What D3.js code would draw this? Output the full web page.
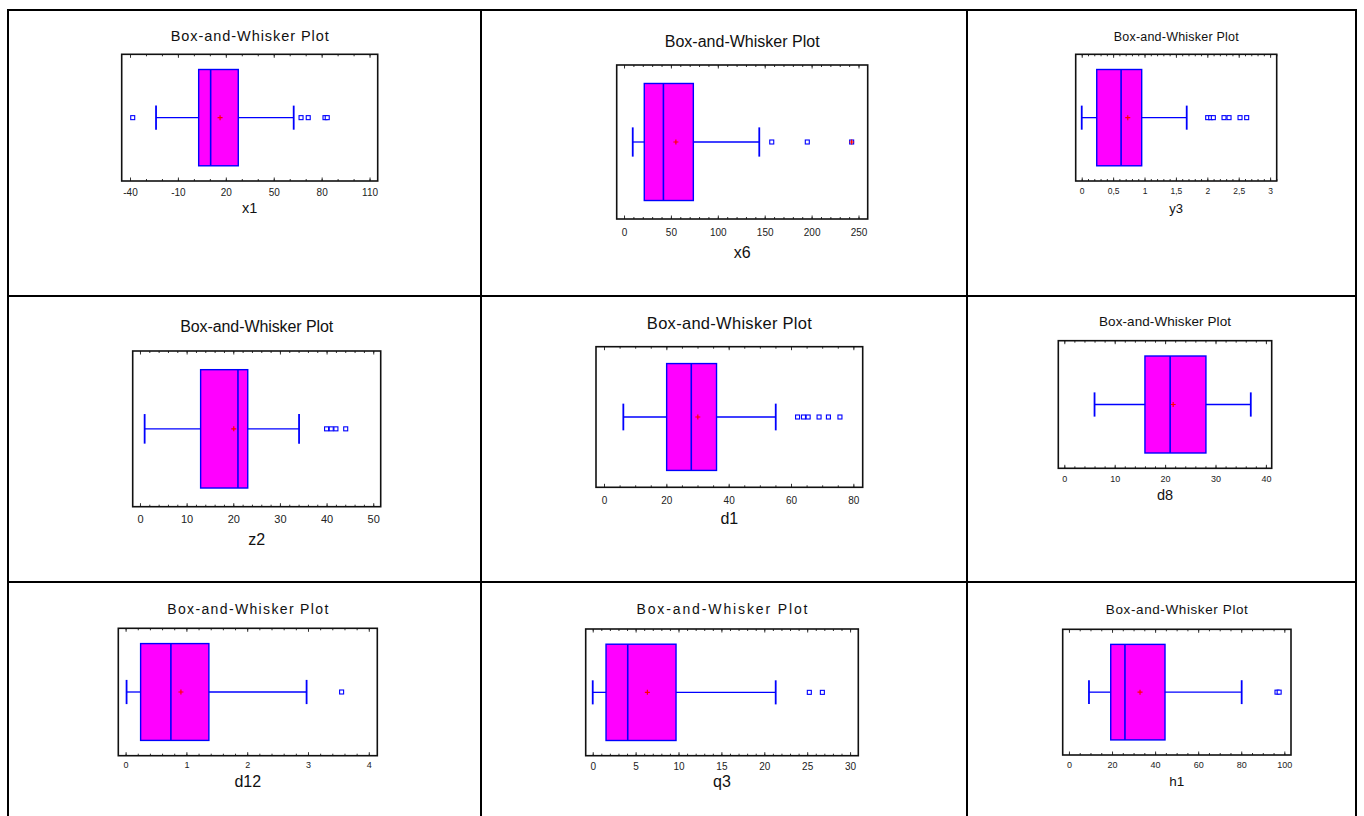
<!DOCTYPE html>
<html>
<head>
<meta charset="utf-8">
<script src="https://cdn.jsdelivr.net/npm/d3@7"></script>
<style>
  body { margin: 0; background: #fff; }
  svg { display: block; }
  text { font-family: "Liberation Sans", Arial, Helvetica, sans-serif; }
</style>
</head>
<body>
<svg id="chart" width="1364" height="816"></svg>
<script>
// ---- Data: one box-and-whisker summary per variable ----
const variables      = ["x1", "x6", "y3", "z2", "d1", "d8", "d12", "q3", "h1"];
const whiskerLow     = [-23.7, 9.3, 0.0, 1.0, 6.2, 6.0, 0.016, 0.0, 9.3];
const lowerQuartile  = [3.0, 21.6, 0.239, 13.0, 20.1, 16.0, 0.247, 1.55, 19.4];
const medians        = [10.5, 42.0, 0.627, 21.0, 28.0, 21.0, 0.745, 4.08, 26.0];
const means          = [16.4, 55.3, 0.733, 20.1, 30.1, 21.6, 0.91, 6.37, 33.0];
const upperQuartile  = [27.8, 73.9, 0.955, 23.1, 36.1, 28.1, 1.37, 9.71, 44.6];
const whiskerHigh    = [62.5, 144.2, 1.672, 34.1, 55.1, 37.0, 2.977, 21.33, 80.2];
const outsidePoints  = [
  [-38.3, 67.1, 71.6, 82.1, 83.5],
  [157.5, 195.4, 242.7],
  [2.006, 2.054, 2.096, 2.266, 2.346, 2.521, 2.627],
  [40.0, 41.0, 42.0, 44.1],
  [62.1, 64.0, 65.5, 69.0, 72.0, 75.7],
  [],
  [3.553],
  [25.25, 26.77],
  [96.6, 97.6]
];
const farOutsidePoints = [[], [242.7], [], [], [], [], [], [], []];

// ---- Axis ranges and tick labels ----
const axisMin    = [-45.2, -7.8, -0.096, -1.56, -2.57, -1.19, -0.12, -0.82, -2.9];
const axisMax    = [115.1, 259.8, 3.105, 51.6, 83.0, 41.15, 4.14, 30.96, 103.1];
const tickValues = [
  [-40, -10, 20, 50, 80, 110],
  [0, 50, 100, 150, 200, 250],
  [0, 0.5, 1, 1.5, 2, 2.5, 3],
  [0, 10, 20, 30, 40, 50],
  [0, 20, 40, 60, 80],
  [0, 10, 20, 30, 40],
  [0, 1, 2, 3, 4],
  [0, 5, 10, 15, 20, 25, 30],
  [0, 20, 40, 60, 80, 100]
];
const tickLabels = [
  ["-40", "-10", "20", "50", "80", "110"],
  ["0", "50", "100", "150", "200", "250"],
  ["0", "0,5", "1", "1,5", "2", "2,5", "3"],
  ["0", "10", "20", "30", "40", "50"],
  ["0", "20", "40", "60", "80"],
  ["0", "10", "20", "30", "40"],
  ["0", "1", "2", "3", "4"],
  ["0", "5", "10", "15", "20", "25", "30"],
  ["0", "20", "40", "60", "80", "100"]
];
const minorStep = [10, 10, 0.1, 2, 5, 2, 0.2, 1, 5];
const plotTitle = "Box-and-Whisker Plot";

// ---- Page layout: table cells and per-panel geometry ----
const gridX = [8, 481, 967, 1356];
const gridY = [10, 296, 582];

const layout = [
  { frame: [121.7, 54.3, 377.7, 181],    titleY: 40.7,  titleSize: 14.5, titleLen: 158, tickY: 196,   tickSize: 10,  labelY: 212.7, labelSize: 14.5 },
  { frame: [616.7, 65, 867.7, 219],      titleY: 47.3,  titleSize: 16,   titleLen: 155, tickY: 235.7, tickSize: 10,  labelY: 258.3, labelSize: 16 },
  { frame: [1075.7, 54.3, 1276.7, 181],  titleY: 40.7,  titleSize: 12.5, titleLen: 125, tickY: 194,   tickSize: 8.5, labelY: 212.7, labelSize: 13 },
  { frame: [132.7, 351, 380.7, 506.7],   titleY: 332,   titleSize: 16,   titleLen: 153, tickY: 523.3, tickSize: 11,  labelY: 545,   labelSize: 16 },
  { frame: [596, 346.7, 862.7, 487.3],   titleY: 329,   titleSize: 16.5, titleLen: 165, tickY: 504,   tickSize: 10,  labelY: 523.5, labelSize: 16 },
  { frame: [1058.3, 340.7, 1271.7, 468.3], titleY: 325.7, titleSize: 13.5, titleLen: 132, tickY: 482, tickSize: 9, labelY: 500,   labelSize: 14.5 },
  { frame: [118.3, 628.3, 377.3, 755.7], titleY: 614,   titleSize: 14,   titleLen: 161, tickY: 768.3, tickSize: 9,   labelY: 787.3, labelSize: 16 },
  { frame: [585.7, 629, 858.3, 755.7],   titleY: 614,   titleSize: 14,   titleLen: 171, tickY: 770,   tickSize: 10,  labelY: 786.7, labelSize: 16 },
  { frame: [1062.7, 629.3, 1291, 755],   titleY: 613.5, titleSize: 13.5, titleLen: 142, tickY: 768.3, tickSize: 9,   labelY: 786,   labelSize: 13.5 }
];

const BOX_FILL = "#ff00ff";
const BLUE = "#0000ff";
const RED = "#ff0000";

const svg = d3.select("#chart");
svg.append("rect").attr("width", 1364).attr("height", 816).attr("fill", "#fff");

// ---- Table grid ----
const grid = svg.append("g").attr("stroke", "#000").attr("stroke-width", 2);
gridX.forEach(x => grid.append("line").attr("x1", x).attr("x2", x).attr("y1", gridY[0] - 1).attr("y2", 816));
gridY.forEach(y => grid.append("line").attr("x1", gridX[0] - 1).attr("x2", gridX[3] + 1).attr("y1", y).attr("y2", y));

// ---- Panels ----
variables.forEach((name, i) => {
  const L = layout[i];
  const [fx0, fy0, fx1, fy1] = L.frame;
  const g = svg.append("g");

  const x = d3.scaleLinear().domain([axisMin[i], axisMax[i]]).range([fx0, fx1]);
  // vertical position inside the frame: 0 = top, 1 = bottom
  const y = d3.scaleLinear().domain([0, 1]).range([fy0, fy1]);

  // title
  g.append("text")
    .attr("x", (fx0 + fx1) / 2).attr("y", L.titleY)
    .attr("text-anchor", "middle")
    .attr("font-size", L.titleSize)
    .attr("textLength", L.titleLen).attr("lengthAdjust", "spacing")
    .attr("fill", "#111")
    .text(plotTitle);

  // minor & major inward tick marks on top and bottom of the frame
  const minorTicks = d3.range(Math.ceil(axisMin[i] / minorStep[i]) * minorStep[i], axisMax[i], minorStep[i])
    .map(v => +v.toFixed(6));
  const tickGroup = (axisGen, ty, values, len) => {
    const a = g.append("g").attr("transform", `translate(0,${ty})`)
      .call(axisGen(x).tickValues(values).tickSizeInner(len).tickSizeOuter(0).tickFormat(""));
    a.select(".domain").remove();
    a.selectAll("line").attr("stroke", "#333").attr("stroke-width", 1);
  };
  tickGroup(d3.axisBottom, fy1, minorTicks, -2);
  tickGroup(d3.axisTop, fy0, minorTicks, -2);
  tickGroup(d3.axisBottom, fy1, tickValues[i], -3.5);
  tickGroup(d3.axisTop, fy0, tickValues[i], -3.5);

  // tick labels
  const labelAxis = g.append("g").attr("transform", `translate(0,${L.tickY})`)
    .call(d3.axisBottom(x).tickValues(tickValues[i]).tickSize(0).tickPadding(0)
      .tickFormat((d, k) => tickLabels[i][k]));
  labelAxis.select(".domain").remove();
  labelAxis.selectAll("text")
    .attr("y", 0).attr("dy", 0)
    .attr("font-size", L.tickSize)
    .attr("font-family", "'Liberation Sans', Arial, sans-serif")
    .attr("fill", "#222");

  // axis title
  g.append("text")
    .attr("x", (fx0 + fx1) / 2).attr("y", L.labelY)
    .attr("text-anchor", "middle")
    .attr("font-size", L.labelSize)
    .attr("fill", "#111")
    .text(name);

  const cy = y(0.5);

  // whiskers
  g.append("line").attr("x1", x(whiskerLow[i])).attr("x2", x(lowerQuartile[i]))
    .attr("y1", cy).attr("y2", cy).attr("stroke", BLUE).attr("stroke-width", 1.3);
  g.append("line").attr("x1", x(upperQuartile[i])).attr("x2", x(whiskerHigh[i]))
    .attr("y1", cy).attr("y2", cy).attr("stroke", BLUE).attr("stroke-width", 1.3);
  [whiskerLow[i], whiskerHigh[i]].forEach(v => {
    g.append("line").attr("x1", x(v)).attr("x2", x(v))
      .attr("y1", y(0.405)).attr("y2", y(0.595))
      .attr("stroke", BLUE).attr("stroke-width", 1.8);
  });

  // box
  g.append("rect")
    .attr("x", x(lowerQuartile[i])).attr("y", y(0.12))
    .attr("width", x(upperQuartile[i]) - x(lowerQuartile[i]))
    .attr("height", y(0.88) - y(0.12))
    .attr("fill", BOX_FILL).attr("stroke", BLUE).attr("stroke-width", 1.4);

  // median
  g.append("line").attr("x1", x(medians[i])).attr("x2", x(medians[i]))
    .attr("y1", y(0.12)).attr("y2", y(0.88))
    .attr("stroke", BLUE).attr("stroke-width", 1.6);

  // mean marker
  const plus = (px, r) => {
    g.append("path")
      .attr("d", `M${px - r},${cy}H${px + r}M${px},${cy - r}V${cy + r}`)
      .attr("stroke", RED).attr("stroke-width", 1.2).attr("fill", "none");
  };
  plus(x(means[i]), 2.5);

  // outside points
  g.selectAll(null).data(outsidePoints[i]).join("rect")
    .attr("x", d => x(d) - 2).attr("y", cy - 2)
    .attr("width", 4).attr("height", 4)
    .attr("fill", "#fff").attr("stroke", BLUE).attr("stroke-width", 1.1);
  farOutsidePoints[i].forEach(v => plus(x(v), 2.5));

  // plot frame
  g.append("rect")
    .attr("x", fx0).attr("y", fy0)
    .attr("width", fx1 - fx0).attr("height", fy1 - fy0)
    .attr("fill", "none").attr("stroke", "#111").attr("stroke-width", 1.6);
});
</script>
</body>
</html>
